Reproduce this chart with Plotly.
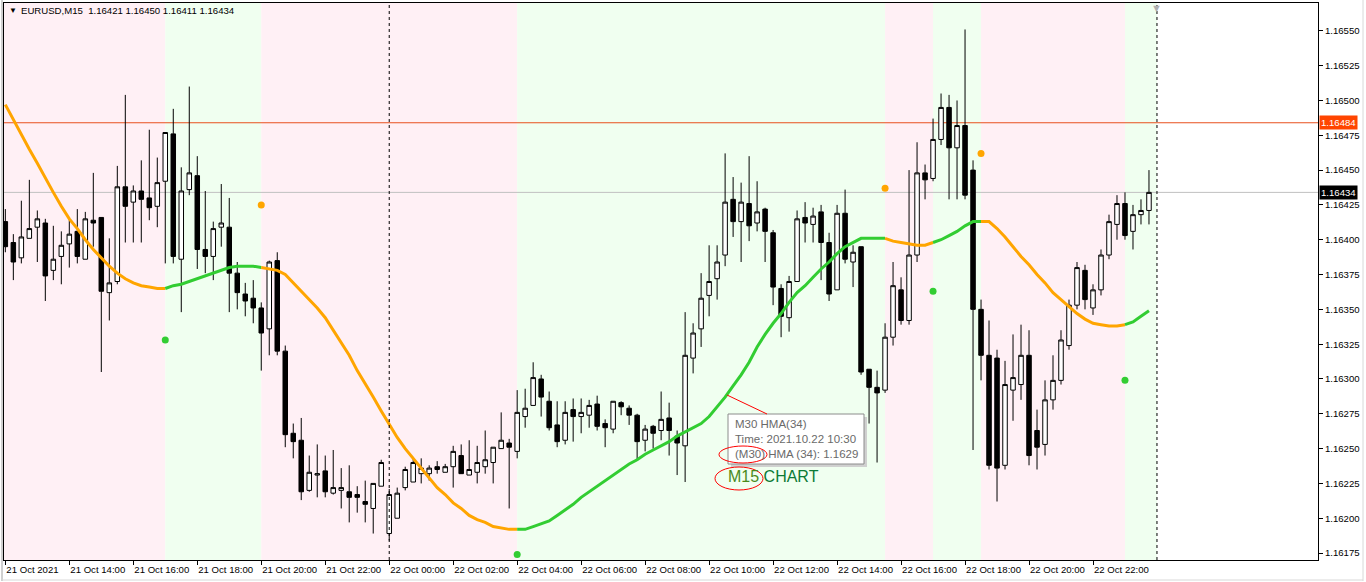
import pandas as pd
import plotly.graph_objects as go

# ---------------- data ----------------
bar_start = "2021-10-21 12:00"
n_bars = 144
times = pd.date_range(bar_start, periods=n_bars, freq="15min")

opens = [1.16413, 1.16398, 1.16387, 1.16401, 1.16409, 1.16412, 1.16378, 1.16388, 1.16397, 1.16406,
         1.16386, 1.16414, 1.16416, 1.16362, 1.16370, 1.16438, 1.16427, 1.16435, 1.16430, 1.16424,
         1.16442, 1.16476, 1.16386, 1.16436, 1.16446, 1.16393, 1.16388, 1.16409, 1.16409, 1.16376,
         1.16361, 1.16358, 1.16351, 1.16336, 1.16385, 1.16320, 1.16261, 1.16256, 1.16220, 1.16231,
         1.16234, 1.16218, 1.16220, 1.16219, 1.16217, 1.16212, 1.16207, 1.16223, 1.16189, 1.16200,
         1.16222, 1.16226, 1.16232, 1.16232, 1.16237, 1.16233, 1.16237, 1.16245, 1.16231, 1.16233,
         1.16237, 1.16240, 1.16250, 1.16254, 1.16248, 1.16273, 1.16281, 1.16300, 1.16284, 1.16267,
         1.16256, 1.16278, 1.16273, 1.16274, 1.16282, 1.16268, 1.16264, 1.16283, 1.16279, 1.16274,
         1.16256, 1.16266, 1.16263, 1.16272, 1.16259, 1.16252, 1.16315, 1.16336, 1.16360, 1.16372,
         1.16389, 1.16429, 1.16413, 1.16426, 1.16412, 1.16422, 1.16405, 1.16365, 1.16344, 1.16370,
         1.16416, 1.16411, 1.16420, 1.16398, 1.16364, 1.16419, 1.16384, 1.16395, 1.16307, 1.16294,
         1.16292, 1.16330, 1.16364, 1.16342, 1.16389, 1.16448, 1.16444, 1.16472, 1.16495, 1.16466,
         1.16482, 1.16450, 1.16350, 1.16317, 1.16315, 1.16238, 1.16292, 1.16296, 1.16317, 1.16263,
         1.16253, 1.16285, 1.16299, 1.16324, 1.16353, 1.16378, 1.16351, 1.16364, 1.16389, 1.16411,
         1.16426, 1.16406, 1.16418, 1.16421]
highs = [1.16422, 1.16404, 1.16428, 1.16443, 1.16421, 1.16415, 1.16410, 1.16406, 1.16415, 1.16422,
         1.16420, 1.16448, 1.16416, 1.16401, 1.16453, 1.16504, 1.16439, 1.16457, 1.16479, 1.16459,
         1.16477, 1.16494, 1.16452, 1.16510, 1.16460, 1.16435, 1.16413, 1.16440, 1.16430, 1.16384,
         1.16369, 1.16371, 1.16355, 1.16385, 1.16391, 1.16324, 1.16268, 1.16272, 1.16245, 1.16253,
         1.16245, 1.16249, 1.16236, 1.16238, 1.16223, 1.16227, 1.16225, 1.16242, 1.16221, 1.16222,
         1.16237, 1.16244, 1.16243, 1.16238, 1.16241, 1.16239, 1.16252, 1.16253, 1.16256, 1.16252,
         1.16263, 1.16251, 1.16276, 1.16257, 1.16292, 1.16293, 1.16312, 1.16303, 1.16291, 1.16284,
         1.16284, 1.16286, 1.16286, 1.16285, 1.16288, 1.16271, 1.16284, 1.16284, 1.16281, 1.16275,
         1.16267, 1.16267, 1.16291, 1.16283, 1.16263, 1.16348, 1.16340, 1.16376, 1.16396, 1.16396,
         1.16462, 1.16445, 1.16441, 1.16460, 1.16442, 1.16423, 1.16407, 1.16368, 1.16374, 1.16421,
         1.16427, 1.16423, 1.16425, 1.16405, 1.16425, 1.16436, 1.16396, 1.16395, 1.16307, 1.16306,
         1.16340, 1.16384, 1.16373, 1.16450, 1.16470, 1.16454, 1.16487, 1.16505, 1.16504, 1.16500,
         1.16551, 1.16457, 1.16357, 1.16342, 1.16321, 1.16313, 1.16332, 1.16339, 1.16335, 1.16278,
         1.16299, 1.16317, 1.16335, 1.16357, 1.16384, 1.16382, 1.16368, 1.16393, 1.16418, 1.16432,
         1.16434, 1.16425, 1.16429, 1.16450]
lows = [1.16391, 1.16371, 1.16383, 1.16401, 1.16384, 1.16356, 1.16371, 1.16368, 1.16380, 1.16383,
        1.16386, 1.16395, 1.16305, 1.16342, 1.16368, 1.16398, 1.16398, 1.16398, 1.16414, 1.16409,
        1.16383, 1.16383, 1.16348, 1.16432, 1.16379, 1.16376, 1.16371, 1.16395, 1.16348, 1.16350,
        1.16345, 1.16340, 1.16306, 1.16317, 1.16317, 1.16251, 1.16243, 1.16213, 1.16219, 1.16215,
        1.16215, 1.16217, 1.16207, 1.16197, 1.16204, 1.16197, 1.16189, 1.16223, 1.16184, 1.16200,
        1.16220, 1.16226, 1.16225, 1.16227, 1.16232, 1.16233, 1.16222, 1.16232, 1.16231, 1.16225,
        1.16232, 1.16225, 1.16250, 1.16207, 1.16243, 1.16265, 1.16281, 1.16273, 1.16263, 1.16251,
        1.16253, 1.16255, 1.16261, 1.16265, 1.16263, 1.16251, 1.16261, 1.16274, 1.16267, 1.16242,
        1.16248, 1.16250, 1.16256, 1.16245, 1.16231, 1.16226, 1.16304, 1.16323, 1.16345, 1.16357,
        1.16381, 1.16402, 1.16384, 1.16399, 1.16406, 1.16384, 1.16353, 1.16330, 1.16334, 1.16370,
        1.16398, 1.16398, 1.16371, 1.16356, 1.16364, 1.16383, 1.16366, 1.16303, 1.16268, 1.16240,
        1.16290, 1.16324, 1.16339, 1.16339, 1.16384, 1.16429, 1.16442, 1.16468, 1.16429, 1.16429,
        1.16429, 1.16249, 1.16299, 1.16235, 1.16212, 1.16235, 1.16270, 1.16285, 1.16238, 1.16235,
        1.16245, 1.16278, 1.16296, 1.16321, 1.16350, 1.16350, 1.16346, 1.16360, 1.16386, 1.16400,
        1.16400, 1.16393, 1.16411, 1.16411]
closes = [1.16395, 1.16384, 1.16402, 1.16408, 1.16415, 1.16374, 1.16386, 1.16396, 1.16404, 1.16388,
          1.16415, 1.16412, 1.16363, 1.16369, 1.16438, 1.16424, 1.16435, 1.16429, 1.16423, 1.16441,
          1.16477, 1.16388, 1.16435, 1.16448, 1.16393, 1.16388, 1.16408, 1.16412, 1.16376, 1.16362,
          1.16356, 1.16351, 1.16333, 1.16384, 1.16320, 1.16260, 1.16255, 1.16219, 1.16233, 1.16232,
          1.16219, 1.16222, 1.16222, 1.16215, 1.16215, 1.16210, 1.16225, 1.16240, 1.16217, 1.16218,
          1.16235, 1.16240, 1.16236, 1.16236, 1.16235, 1.16237, 1.16248, 1.16232, 1.16235, 1.16240,
          1.16242, 1.16251, 1.16256, 1.16251, 1.16276, 1.16279, 1.16301, 1.16287, 1.16265, 1.16255,
          1.16276, 1.16273, 1.16276, 1.16281, 1.16266, 1.16265, 1.16284, 1.16280, 1.16274, 1.16255,
          1.16264, 1.16261, 1.16271, 1.16263, 1.16254, 1.16317, 1.16333, 1.16358, 1.16370, 1.16384,
          1.16427, 1.16413, 1.16427, 1.16410, 1.16420, 1.16406, 1.16366, 1.16345, 1.16370, 1.16415,
          1.16412, 1.16417, 1.16398, 1.16361, 1.16419, 1.16386, 1.16391, 1.16305, 1.16294, 1.16290,
          1.16330, 1.16367, 1.16342, 1.16389, 1.16448, 1.16443, 1.16472, 1.16495, 1.16466, 1.16482,
          1.16432, 1.16350, 1.16317, 1.16238, 1.16236, 1.16296, 1.16301, 1.16317, 1.16245, 1.16251,
          1.16285, 1.16299, 1.16328, 1.16353, 1.16380, 1.16357, 1.16364, 1.16389, 1.16413, 1.16426,
          1.16403, 1.16418, 1.16421, 1.16434]

# M30 HMA(34) projected on the M15 bars
hma = [1.16497, 1.16486, 1.16476, 1.16465, 1.16455, 1.16444, 1.16434, 1.16424, 1.16415, 1.16408,
       1.16400, 1.16393, 1.16387, 1.16381, 1.16376, 1.16372, 1.16369, 1.16367, 1.16366, 1.16365,
       1.16365, 1.16367, 1.16368, 1.16370, 1.16372, 1.16374, 1.16376, 1.16378, 1.16380, 1.16381,
       1.16381, 1.16381, 1.16380, 1.16379, 1.16378, 1.16375, 1.16369, 1.16363, 1.16357, 1.16351,
       1.16344, 1.16335, 1.16326, 1.16317, 1.16306, 1.16297, 1.16287, 1.16277, 1.16267, 1.16258,
       1.16250, 1.16243, 1.16236, 1.16229, 1.16222, 1.16217, 1.16211, 1.16207, 1.16202, 1.16199,
       1.16197, 1.16194, 1.16193, 1.16192, 1.16192, 1.16192, 1.16194, 1.16196, 1.16198, 1.16202,
       1.16206, 1.16210, 1.16215, 1.16219, 1.16223, 1.16227, 1.16231, 1.16235, 1.16239, 1.16242,
       1.16246, 1.16249, 1.16252, 1.16255, 1.16259, 1.16262, 1.16265, 1.16268, 1.16273, 1.16280,
       1.16287, 1.16295, 1.16303, 1.16312, 1.16323, 1.16332, 1.16340, 1.16347, 1.16355, 1.16362,
       1.16367, 1.16373, 1.16379, 1.16384, 1.16390, 1.16395, 1.16398, 1.16401, 1.16401, 1.16401,
       1.16401, 1.16399, 1.16398, 1.16397, 1.16396, 1.16396, 1.16398, 1.16400, 1.16403, 1.16406,
       1.16410, 1.16413, 1.16413, 1.16413, 1.16408, 1.16402, 1.16395, 1.16388, 1.16382, 1.16375,
       1.16369, 1.16362, 1.16357, 1.16352, 1.16347, 1.16343, 1.16340, 1.16339, 1.16338, 1.16338,
       1.16339, 1.16341, 1.16345, 1.16349]

# trend segments (bar index where each starts) and signal dots
trend_starts = [0, 20, 32, 64, 110, 116, 122, 140]
trend_dirs = ["down", "up", "down", "up", "down", "up", "down", "up"]
signal_bars = [20, 32, 64, 110, 116, 122, 140]
signal_prices = [1.16328, 1.16425, 1.16174, 1.16437, 1.16363, 1.16462, 1.16299]

tick_every = 8
tick_labels = ["21 Oct 2021", "21 Oct 14:00", "21 Oct 16:00", "21 Oct 18:00", "21 Oct 20:00",
               "21 Oct 22:00", "22 Oct 00:00", "22 Oct 02:00", "22 Oct 04:00", "22 Oct 06:00",
               "22 Oct 08:00", "22 Oct 10:00", "22 Oct 12:00", "22 Oct 14:00", "22 Oct 16:00",
               "22 Oct 18:00", "22 Oct 20:00", "22 Oct 22:00"]
day_breaks = ["2021-10-22 00:00", "2021-10-23 00:00"]
ask_line = 1.16484
bid_line = 1.16434
title_text = "EURUSD,M15\u00a0\u00a01.16421 1.16450 1.16411 1.16434"
y_ticks = [1.16175, 1.16200, 1.16225, 1.16250, 1.16275, 1.16300, 1.16325, 1.16350,
           1.16375, 1.16400, 1.16425, 1.16450, 1.16475, 1.16500, 1.16525, 1.16550]

# ---------------- styling ----------------
W, H = 1366, 582
ML, MR, MT, MB = 4, 48, 3, 22
PW, PH = W - ML - MR, H - MT - MB
FONT = "Liberation Sans, Arial, sans-serif"
ORANGE = "#FFA500"
GREEN = "#32CD32"
PINK_BG = "#FFF0F5"
GREEN_BG = "#F0FFF0"


def px(x):
    return (x - ML) / PW


def py(y):
    return (H - MB - y) / PH


x_range = [pd.Timestamp("2021-10-21 11:57:30"), pd.Timestamp("2021-10-23 05:02")]
y_range = [1.16170, 1.16570]

fig = go.Figure()

# background bands
shapes = []
band_edges = [x_range[0]] + [times[s] for s in trend_starts[1:]] + [pd.Timestamp(day_breaks[1])]
for k, d in enumerate(trend_dirs):
    shapes.append(dict(type="rect", xref="x", yref="paper", x0=band_edges[k], x1=band_edges[k + 1],
                       y0=0, y1=1, fillcolor=PINK_BG if d == "down" else GREEN_BG,
                       line=dict(width=0), layer="below"))

# day separators
for db in day_breaks:
    shapes.append(dict(type="line", xref="x", yref="paper", x0=db, x1=db, y0=0, y1=1,
                       line=dict(color="black", width=1, dash="3px,3px"), layer="above"))

# price lines
shapes.append(dict(type="line", xref="paper", yref="y", x0=0, x1=1, y0=ask_line, y1=ask_line,
                   line=dict(color="#E8501E", width=1), layer="below"))
shapes.append(dict(type="line", xref="paper", yref="y", x0=0, x1=1, y0=bid_line, y1=bid_line,
                   line=dict(color="#C0C0C0", width=1), layer="below"))

# candles
fig.add_trace(go.Candlestick(
    x=times, open=opens, high=highs, low=lows, close=closes,
    increasing=dict(line=dict(color="black", width=1), fillcolor="white"),
    decreasing=dict(line=dict(color="black", width=1), fillcolor="black"),
    whiskerwidth=0, showlegend=False, hoverinfo="skip"))

# HMA coloured segments
ends = trend_starts[1:] + [n_bars - 1]
for s, e, d in zip(trend_starts, ends, trend_dirs):
    fig.add_trace(go.Scatter(x=times[s:e + 1], y=hma[s:e + 1], mode="lines",
                             line=dict(color=ORANGE if d == "down" else GREEN, width=3),
                             showlegend=False, hoverinfo="skip"))

# signal dots
dot_colors = [GREEN if trend_dirs[trend_starts.index(b)] == "up" else ORANGE for b in signal_bars]
fig.add_trace(go.Scatter(x=[times[b] for b in signal_bars], y=signal_prices, mode="markers",
                         marker=dict(color=dot_colors, size=7, line=dict(width=0)),
                         showlegend=False, hoverinfo="skip"))

# annotation callout (tooltip box)
shapes.append(dict(type="rect", xref="paper", yref="paper", x0=px(731), x1=px(867), y0=py(467), y1=py(417),
                   fillcolor="#D0D0D0", line=dict(width=0), layer="above"))
shapes.append(dict(type="rect", xref="paper", yref="paper", x0=px(728), x1=px(864), y0=py(464), y1=py(414),
                   fillcolor="white", line=dict(color="#8C8C8C", width=1), layer="above"))
shapes.append(dict(type="line", xref="paper", yref="paper", x0=px(727), x1=px(767), y0=py(395), y1=py(414),
                   line=dict(color="red", width=1), layer="above"))
shapes.append(dict(type="circle", xref="paper", yref="paper", x0=px(719), x1=px(767), y0=py(463), y1=py(446),
                   line=dict(color="red", width=1), layer="above"))
shapes.append(dict(type="circle", xref="paper", yref="paper", x0=px(715), x1=px(763), y0=py(490), y1=py(467),
                   line=dict(color="red", width=1), layer="above"))

# outer window frame
shapes.append(dict(type="line", xref="paper", yref="paper", x0=px(2), x1=px(2), y0=py(581), y1=py(0),
                   line=dict(color="#A0A0A0", width=1)))
shapes.append(dict(type="line", xref="paper", yref="paper", x0=px(1363), x1=px(1363), y0=py(581), y1=py(0),
                   line=dict(color="#D8D8D8", width=1)))
shapes.append(dict(type="line", xref="paper", yref="paper", x0=px(2), x1=px(1363), y0=py(580), y1=py(580),
                   line=dict(color="#D8D8D8", width=1)))

annotations = []
annotations.append(dict(xref="paper", yref="paper", x=px(733), y=py(439), xanchor="left", yanchor="middle",
                        text="M30 HMA(34)<br>Time: 2021.10.22 10:30<br>(M30) HMA (34): 1.1629",
                        align="left", showarrow=False, font=dict(family=FONT, size=11.5, color="#6A6A6A")))
annotations.append(dict(xref="paper", yref="paper", x=px(726), y=py(476), xanchor="left", yanchor="middle",
                        text="<span style='color:#4A8A1C'>M15</span> <span style='color:#0C7A36'>CHART</span>",
                        showarrow=False, font=dict(family=FONT, size=16)))
# title
annotations.append(dict(xref="paper", yref="paper", x=px(7), y=py(10), xanchor="left", yanchor="middle",
                        text="\u25BC", showarrow=False, font=dict(family=FONT, size=8, color="black")))
annotations.append(dict(xref="paper", yref="paper", x=px(19), y=py(10), xanchor="left", yanchor="middle",
                        text=title_text, showarrow=False, font=dict(family=FONT, size=9.6, color="black")))
# shift marker
annotations.append(dict(xref="x", yref="paper", x=day_breaks[1], y=1, xanchor="center", yanchor="top",
                        text="\u25BC", showarrow=False, yshift=3, font=dict(family=FONT, size=11, color="#B0B0B0")))
# price labels on axis
for val, bg in [(ask_line, "#FF4500"), (bid_line, "black")]:
    annotations.append(dict(xref="paper", yref="y", x=1, y=val, xanchor="left", yanchor="middle",
                            text=f"{val:.5f}", showarrow=False, xshift=1, bgcolor=bg, borderpad=1,
                            font=dict(family=FONT, size=9.6, color="white")))

fig.update_layout(
    width=W, height=H, margin=dict(l=ML, r=MR, t=MT, b=MB, autoexpand=False),
    paper_bgcolor="white", plot_bgcolor="white",
    shapes=shapes, annotations=annotations, hovermode=False,
    boxgap=0.25, boxgroupgap=0.25,
    xaxis=dict(range=x_range, rangeslider=dict(visible=False), showgrid=False, zeroline=False,
               automargin=False,
               tickvals=[times[i] for i in range(0, n_bars, tick_every)], ticktext=tick_labels,
               ticks="outside", ticklen=4, tickcolor="black", ticklabelposition="outside right",
               showline=True, linecolor="black", linewidth=1, mirror=True,
               tickfont=dict(family=FONT, size=9.6, color="black")),
    yaxis=dict(range=y_range, side="right", showgrid=False, zeroline=False,
               automargin=False,
               tickvals=y_ticks, ticktext=[f"{v:.5f}" for v in y_ticks],
               ticks="outside", ticklen=4, tickcolor="black",
               showline=True, linecolor="black", linewidth=1, mirror=True,
               tickfont=dict(family=FONT, size=9.6, color="black")),
)

# the page body has a default 8px margin; remove it so the figure fills the window
fig.write_html("out.html", config={"displayModeBar": False},
               post_script="document.body.style.margin='0';document.body.style.overflow='hidden';")
